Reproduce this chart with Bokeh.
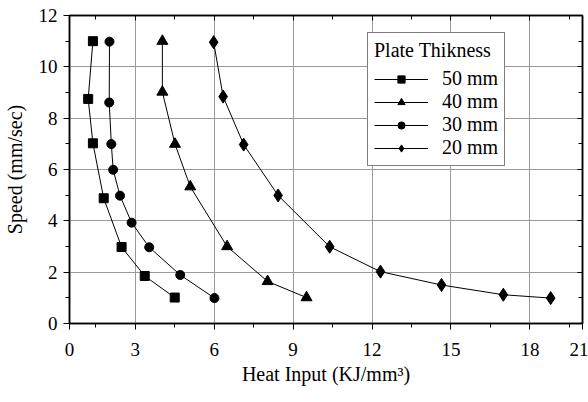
import numpy as np
from bokeh.plotting import figure
from bokeh.models import Range1d, FixedTicker, LinearAxis, Legend, LegendItem
from bokeh.embed import file_html
from bokeh.resources import INLINE

# ---- data ----
x_50 = [1.39, 1.21, 1.39, 1.80, 2.48, 3.36, 4.50]
y_50 = [11.0, 8.75, 7.02, 4.88, 2.98, 1.85, 1.01]

x_40 = [4.03, 4.03, 4.51, 5.09, 6.49, 8.03, 9.51]
y_40 = [11.0, 9.02, 6.99, 5.33, 3.0, 1.64, 1.01]

x_30 = [2.02, 2.01, 2.09, 2.16, 2.42, 2.86, 3.53, 4.71, 6.01]
y_30 = [10.98, 8.61, 6.99, 5.99, 4.98, 3.93, 2.97, 1.89, 0.99]

x_20 = [5.98, 6.34, 7.12, 8.43, 10.39, 12.32, 14.64, 16.99, 18.79]
y_20 = [10.96, 8.84, 6.97, 4.99, 2.99, 2.02, 1.50, 1.12, 0.99]

series_labels = ["50 mm", "40 mm", "30 mm", "20 mm"]
x_ticks = [0.5, 3, 6, 9, 12, 15, 18, 20]
x_tick_labels = ["0", "3", "6", "9", "12", "15", "18", "21"]
x_minor = [1.5, 4.5, 7.5, 10.5, 13.5, 16.5, 19.5]
y_ticks = [0, 2, 4, 6, 8, 10, 12]
y_minor = [1, 3, 5, 7, 9, 11]

FONT = "'Liberation Serif', serif"

p = figure(frame_width=513, frame_height=308,
           min_border_left=69, min_border_right=6, min_border_top=15, min_border_bottom=79,
           output_backend="svg", toolbar_location=None,
           x_range=Range1d(0.5, 20), y_range=Range1d(0, 12))
p.outline_line_color = "black"
p.outline_line_width = 1.5

xt = FixedTicker(ticks=x_ticks, minor_ticks=x_minor)
yt = FixedTicker(ticks=y_ticks, minor_ticks=y_minor)

p.xaxis.ticker = xt
p.yaxis.ticker = yt
p.xaxis.major_label_overrides = {t: l for t, l in zip(x_ticks, x_tick_labels)}

for ax in (p.xaxis[0], p.yaxis[0]):
    ax.axis_line_color = "black"
    ax.axis_line_width = 1.5
    ax.major_tick_line_color = "black"
    ax.minor_tick_line_color = "black"
    ax.major_tick_in = 0
    ax.major_tick_out = 6
    ax.minor_tick_in = 0
    ax.minor_tick_out = 4
    ax.major_label_text_font = FONT
    ax.major_label_text_font_size = "19px"
    ax.major_label_text_font_style = "normal"
    ax.major_label_text_color = "black"
    ax.axis_label_text_font = FONT
    ax.axis_label_text_font_size = "20px"
    ax.axis_label_text_font_style = "normal"
    ax.axis_label_text_color = "black"

p.xaxis.axis_label = "Heat Input (KJ/mm³)"
p.yaxis.axis_label = "Speed (mm/sec)"
p.xaxis.major_label_standoff = 13
p.xaxis.axis_label_standoff = 4
p.yaxis.major_label_standoff = 6
p.yaxis.axis_label_standoff = 10

# mirrored axes with inner ticks
ra = LinearAxis(ticker=FixedTicker(ticks=y_ticks, minor_ticks=y_minor))
ta = LinearAxis(ticker=FixedTicker(ticks=x_ticks, minor_ticks=x_minor))
for ax in (ra, ta):
    ax.axis_line_color = "black"
    ax.axis_line_width = 1.5
    ax.major_tick_in = 5
    ax.major_tick_out = 0
    ax.minor_tick_in = 4
    ax.minor_tick_out = 0
    ax.major_label_text_font_size = "0px"
    ax.major_label_standoff = 0
    ax.major_label_text_color = None
p.add_layout(ra, "right")
p.add_layout(ta, "above")

p.xgrid.ticker = xt
p.ygrid.ticker = yt
for g in (p.xgrid[0], p.ygrid[0]):
    g.grid_line_color = "#9a9a9a"
    g.grid_line_width = 1

items = []
specs = [
    (x_50, y_50, "square", 9),
    (x_40, y_40, "triangle", 11),
    (x_30, y_30, "circle", 9),
    (x_20, y_20, "diamond", 13),
]
for (xs, ys, mk, sz), lab in zip(specs, series_labels):
    l = p.line(xs, ys, line_color="black", line_width=1)
    s = p.scatter(xs, ys, marker=mk, size=sz,
                  fill_color="black", line_color="black")
    items.append(LegendItem(label=lab, renderers=[l, s]))

legend = Legend(items=items, location=(298, 157), title="Plate Thikness")
legend.title_text_font = FONT
legend.title_text_font_size = "20px"
legend.title_text_font_style = "normal"
legend.title_text_color = "black"
legend.title_standoff = 5
legend.label_text_font = FONT
legend.label_text_font_size = "20px"
legend.label_text_font_style = "normal"
legend.label_text_color = "black"
legend.glyph_width = 54
legend.glyph_height = 18
legend.label_height = 18
legend.label_standoff = 14
legend.spacing = 0
legend.padding = 6
legend.margin = 0
legend.border_line_color = "black"
legend.border_line_width = 1
legend.background_fill_color = "white"
legend.background_fill_alpha = 1
p.add_layout(legend, "center")

open("out.html", "w").write(file_html(p, INLINE))
